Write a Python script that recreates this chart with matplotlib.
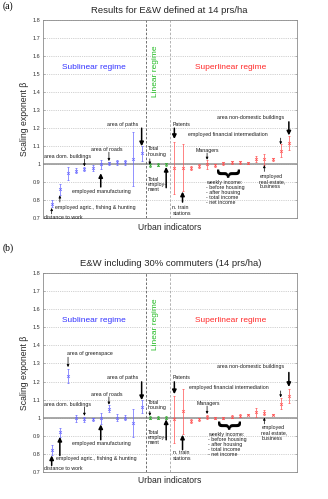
import numpy as np
import matplotlib
matplotlib.use("Agg")
import matplotlib.pyplot as plt

plt.rcParams["font.family"] = ["Liberation Sans", "DejaVu Sans"]

# indicator positions along the x axis
blue_idx = list(range(1, 13))
green_idx = [13, 14, 15]
red_idx = list(range(16, 31))

# Panel (a): E&W defined at 14 prs/ha
a_blue_val = [0.78, 0.86, 0.95, 0.965, 0.972, 0.98, 1.0, 1.005, 1.01, 1.01, 1.03, 1.06]
a_blue_err = [0.02, 0.03, 0.035, 0.015, 0.012, 0.015, 0.025, 0.01, 0.015, 0.012, 0.15, 0.04]
a_green_val = [0.995, 0.998, 1.0]
a_green_err = [0.01, 0.008, 0.008]
a_red_val = [0.98, 0.98, 0.98, 0.99, 1.0, 0.995, 1.005, 1.01, 1.01, 1.005,
             1.028, 1.028, 1.028, 1.076, 1.117]
a_red_err = [0.145, 0.13, 0.01, 0.012, 0.025, 0.008, 0.01, 0.01, 0.01, 0.005,
             0.015, 0.03, 0.008, 0.035, 0.04]

# Panel (b): E&W including 30% commuters
b_blue_val = [0.82, 0.92, 1.23, 0.995, 0.99, 0.99, 0.995, 1.05, 1.0, 1.0, 0.97, 1.06]
b_blue_err = [0.03, 0.025, 0.04, 0.02, 0.015, 0.01, 0.03, 0.02, 0.02, 0.015, 0.077, 0.035]
b_green_val = [1.0, 1.0, 1.0]
b_green_err = [0.008, 0.008, 0.008]
b_red_val = [0.99, 1.035, 0.98, 0.99, 1.005, 1.0, 1.0, 1.005, 1.01, 1.017,
             1.03, 1.028, 1.017, 1.078, 1.12]
b_red_err = [0.13, 0.125, 0.01, 0.008, 0.012, 0.006, 0.006, 0.01, 0.008, 0.005,
             0.025, 0.015, 0.005, 0.03, 0.04]

yticks = [0.7, 0.8, 0.9, 1.0, 1.1, 1.2, 1.3, 1.4, 1.5, 1.6, 1.7, 1.8]
ytick_labels = ["0.7", "0.8", "0.9", "1", "1.1", "1.2", "1.3", "1.4", "1.5", "1.6", "1.7", "1.8"]

WEEKLY = "weekly income:\n- before housing\n- after housing\n- total income\n- net income"

# (text, x, y, point index, arrow tail y, arrow tip y, big arrow)
a_notes = [
    ("distance to work", 0.06, 0.707, 1, 0.725, 0.757, False),
    ("employed agric., fishing & hunting", 1.41, 0.759, 2, 0.79, 0.827, False),
    ("area dom. buildings", 0.06, 1.044, 5, 1.03, 0.988, False),
    ("area of roads", 5.83, 1.083, 8, 1.067, 1.018, False),
    ("employed manufacturing", 3.5, 0.85, 7, 0.874, 0.95, True),
    ("area of paths", 7.8, 1.222, 12, 1.2, 1.1, True),
    ("Total\nhousing", 12.7, 1.071, 13, 1.03, 0.998, False),
    ("Total\nemploy-\nment", 12.7, 0.889, 15, 0.87, 0.985, True),
    ("Patents", 15.77, 1.222, 16, 1.2, 1.14, True),
    ("n. train\nstations", 15.77, 0.743, 17, 0.79, 0.848, True),
    ("Managers", 18.6, 1.078, 20, 1.062, 1.025, False),
    ("employed financial intermediation", 17.7, 1.163, 29, 1.145, 1.11, False),
    ("area non-domestic buildings", 21.2, 1.259, 30, 1.235, 1.16, True),
    ("employed\nreal estate,\nbusiness", 26.4, 0.905, 27, 0.96, 0.995, False),
]

b_notes = [
    ("distance to work", 0.06, 0.718, 1, 0.735, 0.79, True),
    ("employed agric., fishing & hunting", 1.5, 0.771, 2, 0.79, 0.893, True),
    ("area of greenspace", 2.85, 1.355, 3, 1.335, 1.28, False),
    ("area dom. buildings", 0.06, 1.073, 5, 1.06, 1.01, False),
    ("area of roads", 5.8, 1.13, 8, 1.115, 1.072, False),
    ("employed manufacturing", 3.46, 0.855, 7, 0.877, 0.962, True),
    ("area of paths", 7.8, 1.22, 12, 1.198, 1.097, True),
    ("Total\nhousing", 12.7, 1.07, 13, 1.035, 1.01, False),
    ("Total\nemploy-\nment", 12.7, 0.89, 15, 0.877, 0.99, True),
    ("Patents", 15.8, 1.222, 16, 1.198, 1.13, True),
    ("n. train\nstations", 15.8, 0.79, 17, 0.822, 0.905, True),
    ("Managers", 18.7, 1.079, 20, 1.064, 1.02, False),
    ("employed financial intermediation", 17.85, 1.167, 29, 1.148, 1.112, False),
    ("area non-domestic buildings", 21.2, 1.281, 30, 1.25, 1.17, True),
    ("employed\nreal estate,\nbusiness", 26.65, 0.915, 27, 0.965, 1.0, False),
]


def draw_panel(ax, blue_val, blue_err, green_val, green_err, red_val, red_err,
               notes, weekly_xy, brace_xy, regime_y):
    ax.set_xlim(0, 31)
    ax.set_ylim(0.7, 1.8)
    ax.set_yticks(yticks)
    ax.set_yticklabels(ytick_labels)
    ax.set_xticks([])
    ax.yaxis.grid(True, linestyle=":", color="0.65", lw=0.5)
    ax.set_axisbelow(True)
    ax.tick_params(axis="y", labelsize=4, length=1.5, width=0.4, color="0.5",
                   right=True, direction="in", pad=2, labelcolor="0.2")
    for s in ax.spines.values():
        s.set_color("0.55")
        s.set_linewidth(0.6)

    ax.axhline(1.0, color="0.6", lw=1.2, zorder=1)
    ax.axvline(12.5, color="0.35", ls="--", lw=0.6, dashes=(3, 2))
    ax.axvline(15.5, color="0.65", ls="--", lw=0.6, dashes=(3, 2))

    ekw = dict(fmt="x", markersize=2.0, mew=0.5, capsize=1.0, elinewidth=0.5,
               capthick=0.5, zorder=3)
    ax.errorbar(blue_idx, blue_val, yerr=blue_err, color="#6666ff", **ekw)
    ax.errorbar(green_idx, green_val, yerr=green_err, color="#33aa33", **ekw)
    ax.errorbar(red_idx, red_val, yerr=red_err, color="#ff5050", **ekw)

    ax.text(6.1, regime_y, "Sublinear regime", color="#3333ff", fontsize=6,
            ha="center", va="center")
    ax.text(22.9, regime_y, "Superlinear regime", color="#ff2a2a", fontsize=6,
            ha="center", va="center")
    ax.text(13.75, regime_y - 0.02, "Linear regime", color="#22bb22", fontsize=6,
            ha="center", va="center", rotation=90)

    for text, tx, ty, pi, y0, y1, big in notes:
        ax.text(tx, ty, text, fontsize=3.8, ha="left", va="center",
                linespacing=1.05, zorder=4, color="0.1")
        if big:
            props = dict(arrowstyle="-|>", color="k", lw=1.1, mutation_scale=6,
                         shrinkA=0, shrinkB=0)
        else:
            props = dict(arrowstyle="-|>", color="k", lw=0.5, mutation_scale=3.5,
                         shrinkA=0, shrinkB=0)
        ax.annotate("", xy=(pi, y1), xytext=(pi, y0), arrowprops=props, zorder=5)

    ax.text(weekly_xy[0], weekly_xy[1], WEEKLY, fontsize=3.8, ha="left", va="top",
            linespacing=1.05, color="0.1")
    ax.text(brace_xy[0], brace_xy[1], "}", fontsize=17, ha="center", va="center",
            rotation=-90, fontweight="bold")


fig = plt.figure(figsize=(3.28, 4.99), dpi=100)

ax_a = fig.add_axes([0.1326, 0.5625, 0.773, 0.3974])
draw_panel(ax_a, a_blue_val, a_blue_err, a_green_val, a_green_err,
           a_red_val, a_red_err, a_notes, (19.9, 0.915), (22.45, 0.955), 1.535)

ax_b = fig.add_axes([0.1326, 0.0547, 0.773, 0.3976])
draw_panel(ax_b, b_blue_val, b_blue_err, b_green_val, b_green_err,
           b_red_val, b_red_err, b_notes, (20.1, 0.922), (22.6, 0.962), 1.54)

fig.text(0.008, 0.988, "(a)", fontsize=7, family="Liberation Serif", va="center")
fig.text(0.008, 0.503, "(b)", fontsize=7, family="Liberation Serif", va="center")

fig.text(0.516, 0.978, "Results for E&W defined at 14 prs/ha", fontsize=6.8,
         ha="center", va="center", color="0.15")
fig.text(0.52, 0.471, "E&W including 30% commuters (14 prs/ha)", fontsize=6.8,
         ha="center", va="center", color="0.15")

fig.text(0.518, 0.545, "Urban indicators", fontsize=6.2, ha="center", va="center",
         color="0.15")
fig.text(0.518, 0.038, "Urban indicators", fontsize=6.2, ha="center", va="center",
         color="0.15")

fig.text(0.076, 0.761, "Scaling exponent \u03b2", fontsize=6.2, ha="center",
         va="center", rotation=90, color="0.15")
fig.text(0.076, 0.253, "Scaling exponent \u03b2", fontsize=6.2, ha="center",
         va="center", rotation=90, color="0.15")

fig.savefig("out.png", dpi=100)
